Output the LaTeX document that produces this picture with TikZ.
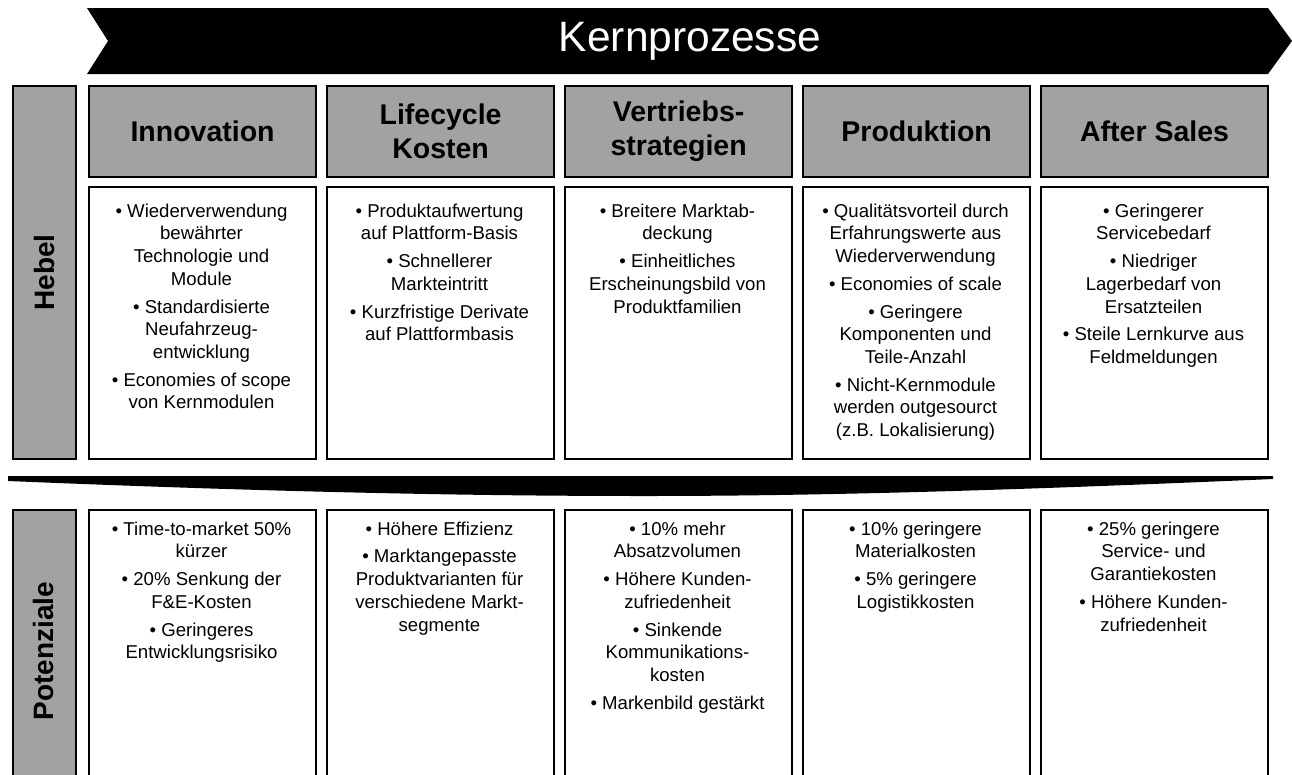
\documentclass[tikz,border=0pt]{standalone}
\usepackage{fontspec}
\setmainfont{Liberation Sans}
\definecolor{panelgray}{RGB}{162,162,162}
% fixed height of the first line, so that umlauts do not shift a text block
\newcommand{\firstrow}{\rule{0pt}{16pt}}
\begin{document}
\begin{tikzpicture}[x=1pt,y=-1pt,
  headbox/.style={draw=black,line width=2.2pt,fill=panelgray,minimum width=227pt,
    minimum height=91pt,anchor=north west,inner sep=0pt,align=center,
    font=\fontsize{28.5}{34}\selectfont\bfseries},
  bodybox/.style={draw=black,line width=2pt,fill=white,minimum width=227pt,
    anchor=north west,inner sep=0pt},
  bodytext/.style={anchor=north,inner sep=0pt,align=center,
    font=\fontsize{18.6}{22.7}\selectfont},
  sidebar/.style={draw=black,line width=2.2pt,fill=panelgray,minimum width=63pt,
    anchor=north west,inner sep=0pt},
  sidelabel/.style={rotate=90,inner sep=0pt,font=\fontsize{28}{30}\selectfont\bfseries}
]
\useasboundingbox (0,0) rectangle (1292,774);

% process arrow across the top
\fill[black] (87,8) -- (1268,8) -- (1292,41) -- (1268,74) -- (87,74) -- (108,41) -- cycle;
\node[text=white,inner sep=0pt,font=\fontsize{42.5}{45}\selectfont] (kern) at (690,41) {Kernprozesse};

% side bars
\node[sidebar,minimum height=373pt] (hebel) at (12,85) {};
\node[sidelabel] at (hebel.center) {Hebel};
\node[sidebar,minimum height=285pt] (pot) at (12,509) {};
\node[sidelabel] at (43.5,651) {Potenziale};

% column headers
\node[headbox] (h1) at (88,85)   {Innovation};
\node[headbox] (h2) at (326,85)  {Lifecycle\\Kosten};
\node[headbox] (h3) at (564,85)  {Vertriebs-\\strategien};
\node[headbox] (h4) at (802,85)  {Produktion};
\node[headbox] (h5) at (1040,85) {After Sales};

% lever boxes
\node[bodybox,minimum height=272pt] (b1) at (88,186)   {};
\node[bodybox,minimum height=272pt] (b2) at (326,186)  {};
\node[bodybox,minimum height=272pt] (b3) at (564,186)  {};
\node[bodybox,minimum height=272pt] (b4) at (802,186)  {};
\node[bodybox,minimum height=272pt] (b5) at (1040,186) {};

\node[bodytext] (t1) at (201.5,201) {\firstrow• Wiederverwendung\\bewährter\\Technologie und\\Module\\[5pt]
  • Standardisierte\\Neufahrzeug-\\entwicklung\\[5pt]• Economies of scope\\von Kernmodulen};
\node[bodytext] (t2) at (439.5,201) {\firstrow• Produktaufwertung\\auf Plattform-Basis\\[5pt]
  • Schnellerer\\Markteintritt\\[5pt]• Kurzfristige Derivate\\auf Plattformbasis};
\node[bodytext] (t3) at (677.5,201) {\firstrow• Breitere Marktab-\\deckung\\[5pt]
  • Einheitliches\\Erscheinungsbild von\\Produktfamilien};
\node[bodytext] (t4) at (915.5,201) {\firstrow• Qualitätsvorteil durch\\Erfahrungswerte aus\\Wiederverwendung\\[5pt]
  • Economies of scale\\[5pt]• Geringere\\Komponenten und\\Teile-Anzahl\\[5pt]
  • Nicht-Kernmodule\\werden outgesourct\\(z.B. Lokalisierung)};
\node[bodytext] (t5) at (1153.5,201) {\firstrow• Geringerer\\Servicebedarf\\[5pt]
  • Niedriger\\Lagerbedarf von\\Ersatzteilen\\[5pt]• Steile Lernkurve aus\\Feldmeldungen};

% funnel separator
\fill[black] (8,476) -- (1273,476) -- (1273,479)
  .. controls (1040,489) and (840,496) .. (645,496)
  .. controls (450,496) and (250,491) .. (8,481) -- cycle;

% potential boxes
\node[bodybox,minimum height=285pt] (p1) at (88,509)   {};
\node[bodybox,minimum height=285pt] (p2) at (326,509)  {};
\node[bodybox,minimum height=285pt] (p3) at (564,509)  {};
\node[bodybox,minimum height=285pt] (p4) at (802,509)  {};
\node[bodybox,minimum height=285pt] (p5) at (1040,509) {};

\node[bodytext] (q1) at (201.5,519) {\firstrow• Time-to-market 50\%\\kürzer\\[5pt]
  • 20\% Senkung der\\F\&E-Kosten\\[5pt]• Geringeres\\Entwicklungsrisiko};
\node[bodytext] (q2) at (439.5,519) {\firstrow• Höhere Effizienz\\[5pt]
  • Marktangepasste\\Produktvarianten für\\verschiedene Markt-\\segmente};
\node[bodytext] (q3) at (677.5,519) {\firstrow• 10\% mehr\\Absatzvolumen\\[5pt]
  • Höhere Kunden-\\zufriedenheit\\[5pt]• Sinkende\\Kommunikations-\\kosten\\[5pt]
  • Markenbild gestärkt};
\node[bodytext] (q4) at (915.5,519) {\firstrow• 10\% geringere\\Materialkosten\\[5pt]
  • 5\% geringere\\Logistikkosten};
\node[bodytext] (q5) at (1153.5,519) {\firstrow• 25\% geringere\\Service- und\\Garantiekosten\\[5pt]
  • Höhere Kunden-\\zufriedenheit};
\end{tikzpicture}
\end{document}
